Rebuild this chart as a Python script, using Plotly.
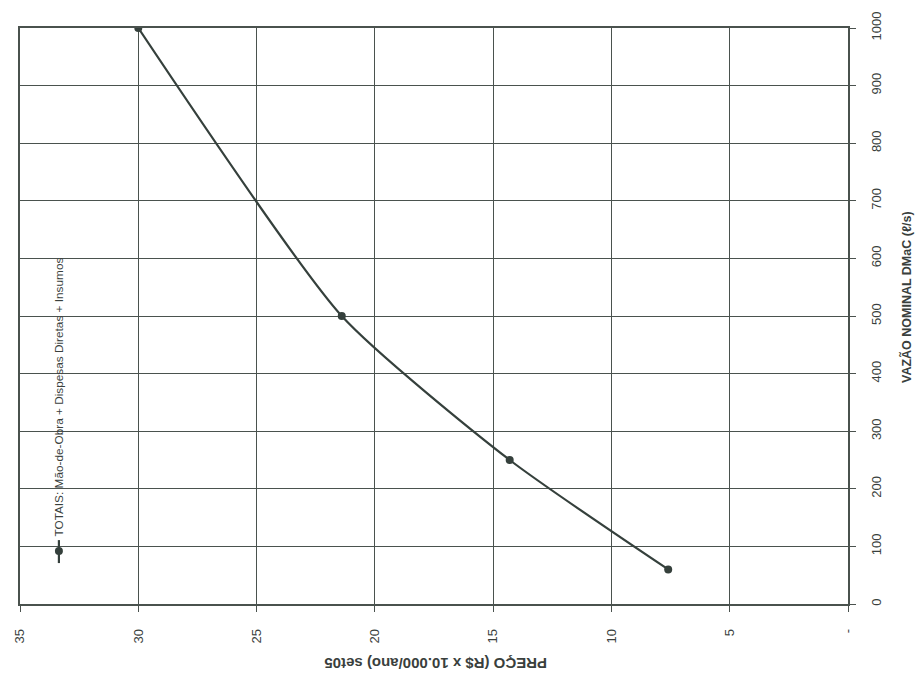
import plotly.graph_objects as go

# Data (price in R$ x 10.000/ano, flow in l/s)
preco = [30.0, 21.4, 14.3, 7.6]
vazao = [1000, 500, 250, 60]
x_ticks = [35, 30, 25, 20, 15, 10, 5, 0]
x_labels = ["35", "30", "25", "20", "15", "10", "5", "-"]
y_ticks = [0, 100, 200, 300, 400, 500, 600, 700, 800, 900, 1000]
serie_nome = "TOTAIS: Mão-de-Obra + Dispesas Diretas + Insumos"

line_col = "#35403c"
grid_col = "#4a524e"

fig = go.Figure()
fig.add_trace(go.Scatter(
    x=preco, y=vazao, mode="lines+markers",
    line=dict(color=line_col, width=2.2, shape="spline", smoothing=0.6),
    marker=dict(color=line_col, size=8),
    name=serie_nome, showlegend=False,
))

fig.update_layout(
    width=920, height=685,
    margin=dict(l=18, r=72, t=27, b=81),
    paper_bgcolor="white", plot_bgcolor="white",
    font=dict(family="Liberation Sans, Arial, sans-serif", size=12, color="#3a3f3d"),
    xaxis=dict(
        range=[35, 0], tickvals=x_ticks, ticktext=x_labels, tickangle=-90,
        showgrid=True, gridcolor=grid_col, gridwidth=1,
        showline=True, linecolor=grid_col, linewidth=1.5, mirror=True,
        ticks="outside", ticklen=6, tickcolor=grid_col,
        zeroline=False, tickfont=dict(size=13), ticklabelstandoff=12,
    ),
    yaxis=dict(
        range=[0, 1000], tickvals=y_ticks, side="right", tickangle=-90,
        showgrid=True, gridcolor=grid_col, gridwidth=1,
        showline=True, linecolor=grid_col, linewidth=1.5, mirror=True,
        ticks="outside", ticklen=6, tickcolor=grid_col,
        zeroline=False, tickfont=dict(size=13), ticklabelstandoff=10,
    ),
)

# Axis titles (rotated like the scanned original)
fig.add_annotation(
    text="<b>VAZÃO NOMINAL DMaC (ℓ/s)</b>", textangle=-90,
    xref="paper", yref="paper", x=1.0, y=(604 - 297) / 577, xshift=68,
    showarrow=False, font=dict(size=12.5, color="#3a3f3d"),
)
fig.add_annotation(
    text="<b>PREÇO (R$ x 10.000/ano) set05</b>", textangle=180,
    xref="paper", yref="paper", x=(434 - 18) / 830, y=0.0,
    yanchor="middle", yshift=-60,
    showarrow=False, font=dict(size=15, color="#3a3f3d"),
)

# Rotated legend
lx = (57 - 18) / 830
fig.add_shape(type="line", xref="paper", yref="paper",
              x0=lx, x1=lx, y0=(604 - 563) / 577, y1=(604 - 540) / 577,
              line=dict(color=line_col, width=2.2))
fig.add_trace(go.Scatter(
    x=[lx], y=[(604 - 551) / 577], xaxis="x2", yaxis="y2", mode="markers",
    marker=dict(color=line_col, size=8), showlegend=False, hoverinfo="skip",
))
fig.update_layout(
    xaxis2=dict(range=[0, 1], overlaying="x", visible=False, domain=[0, 1]),
    yaxis2=dict(range=[0, 1], overlaying="y", visible=False, domain=[0, 1]),
)
fig.add_annotation(
    text=serie_nome, textangle=-90,
    xref="paper", yref="paper", x=lx, y=(604 - 538) / 577,
    xanchor="center", yanchor="bottom",
    showarrow=False, font=dict(size=11.8, color="#3a3f3d"),
)

fig.write_html("out.html")
